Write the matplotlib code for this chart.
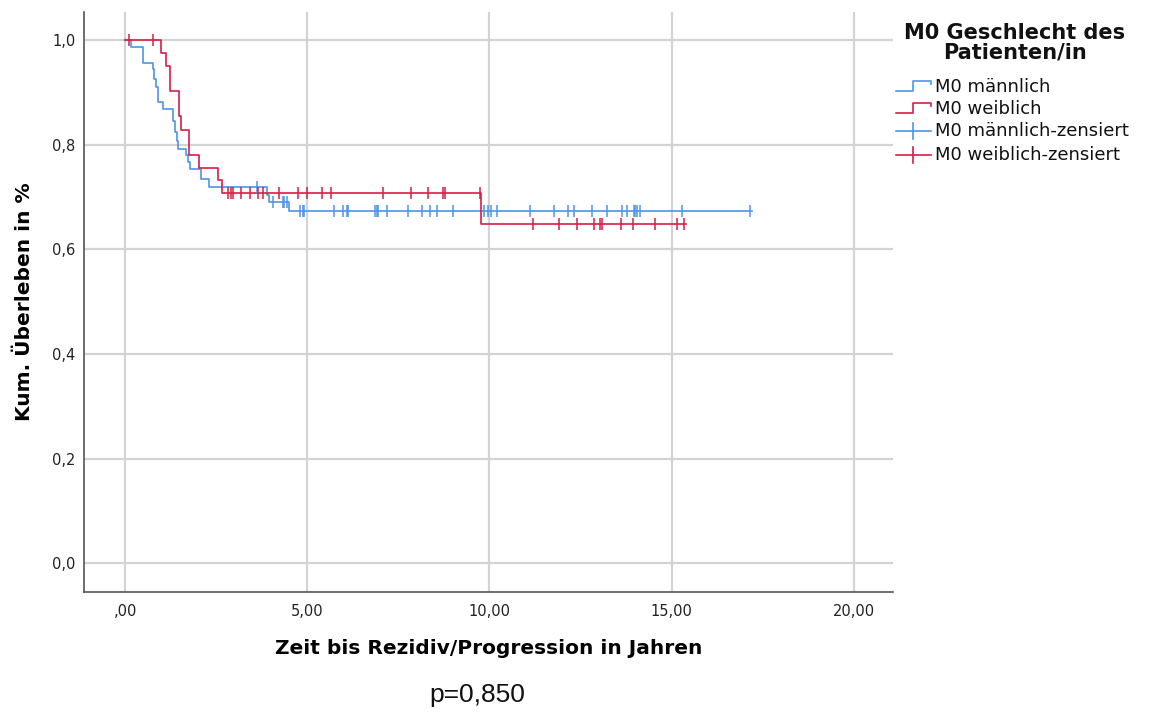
import numpy as np
import matplotlib
matplotlib.use("Agg")
import matplotlib.pyplot as plt
from matplotlib.lines import Line2D

# ---------------- data ----------------
blue_label = "M0 männlich"
red_label = "M0 weiblich"
blue_cens_label = "M0 männlich-zensiert"
red_cens_label = "M0 weiblich-zensiert"

blue_times = [0.0, 0.15, 0.49, 0.76, 0.79, 0.835, 0.90, 1.04, 1.31, 1.38, 1.43,
              1.45, 1.68, 1.72, 1.77, 2.09, 2.30, 3.90, 3.96, 4.51]
blue_surv = [1.0, 0.987, 0.956, 0.945, 0.926, 0.910, 0.882, 0.868, 0.846, 0.824,
             0.808, 0.792, 0.781, 0.767, 0.754, 0.735, 0.720, 0.705, 0.690, 0.673]
blue_end = 17.2
blue_cens = [3.61, 4.07, 4.32, 4.37, 4.45, 4.80, 4.87, 4.91, 5.74, 5.97, 6.08, 6.13,
             6.86, 6.91, 6.95, 7.20, 7.77, 8.14, 8.37, 8.55, 9.01, 9.86, 9.96, 10.05,
             10.22, 11.12, 11.76, 12.17, 12.31, 12.83, 13.23, 13.65, 13.79, 13.96,
             14.00, 14.05, 14.14, 15.29, 17.16]

red_times = [0.0, 0.99, 1.13, 1.22, 1.49, 1.54, 1.75, 2.02, 2.55, 2.66, 9.77]
red_surv = [1.0, 0.976, 0.951, 0.902, 0.856, 0.829, 0.780, 0.756, 0.732, 0.707, 0.648]
red_end = 15.4
red_cens = [0.10, 0.76, 2.82, 2.90, 2.97, 3.18, 3.42, 3.66, 3.79, 4.22, 4.75, 5.00,
            5.40, 5.65, 7.09, 7.84, 8.31, 8.72, 8.78, 9.73, 11.19, 11.92, 12.40,
            12.86, 13.04, 13.10, 13.61, 13.94, 14.55, 15.15, 15.33]

x_ticks = [0, 5, 10, 15, 20]
x_tick_labels = [",00", "5,00", "10,00", "15,00", "20,00"]
y_ticks = [0.0, 0.2, 0.4, 0.6, 0.8, 1.0]
y_tick_labels = ["0,0", "0,2", "0,4", "0,6", "0,8", "1,0"]

x_label = "Zeit bis Rezidiv/Progression in Jahren"
y_label = "Kum. Überleben in %"
legend_title = "M0 Geschlecht des\nPatienten/in"
p_text = "p=0,850"

# ---------------- styling ----------------
BLUE = "#4F95E6"
RED = "#D81E48"
GRID = "#D3D3D3"
SPINE = "#555555"

W, H = 1149, 715
fig = plt.figure(figsize=(W / 100, H / 100), dpi=100)
ax = fig.add_axes([84 / W, 1 - 592 / H, (893 - 84) / W, (592 - 12) / H])

ax.set_xlim(-1.13, 21.08)
ax.set_ylim(-0.055, 1.054)
ax.set_xticks(x_ticks)
ax.set_xticklabels(x_tick_labels)
ax.set_yticks(y_ticks)
ax.set_yticklabels(y_tick_labels)
ax.tick_params(length=0, labelsize=10.5, colors="#222222")
ax.tick_params(axis="x", pad=9)
ax.tick_params(axis="y", pad=6)
ax.grid(True, color=GRID, lw=1.6)
ax.set_axisbelow(True)
for s in ("top", "right"):
    ax.spines[s].set_visible(False)
for s in ("left", "bottom"):
    ax.spines[s].set_color(SPINE)
    ax.spines[s].set_linewidth(1.2)


def step_value(times, surv, t):
    idx = np.searchsorted(np.asarray(times), np.asarray(t), side="right") - 1
    return np.asarray(surv)[idx]


for times, surv, end, cens, col in [
    (blue_times, blue_surv, blue_end, blue_cens, BLUE),
    (red_times, red_surv, red_end, red_cens, RED),
]:
    ax.step(list(times) + [end], list(surv) + [surv[-1]], where="post",
            color=col, lw=1.2, zorder=3)
    ax.plot(cens, step_value(times, surv, cens), ls="none", marker="|",
            markersize=8.5, markeredgewidth=1.1, color=col, zorder=4)

ax.set_xlabel(x_label, fontsize=14.5, fontweight="bold", labelpad=14)
ax.set_ylabel(y_label, fontsize=14.5, fontweight="bold", labelpad=13)

# p-value
fig.text(477 / W, 1 - 695 / H, p_text, fontsize=19, family="Liberation Sans",
         ha="center", va="center", color="#111111")

# ---------------- legend (manual) ----------------
fig.text(1015 / W, 1 - 43 / H, legend_title, fontsize=15, fontweight="bold",
         ha="center", va="center", linespacing=0.95, color="#111111")


def fx(px):
    return px / W


def fy(py):
    return 1 - py / H


entries = [(blue_label, BLUE, "step", 87), (red_label, RED, "step", 109),
           (blue_cens_label, BLUE, "cens", 131), (red_cens_label, RED, "cens", 155)]
for text, col, kind, yc in entries:
    if kind == "step":
        xs = [896, 913, 913, 931, 931]
        ys = [yc + 4, yc + 4, yc - 6, yc - 6, yc - 3]
        fig.add_artist(Line2D([fx(v) for v in xs], [fy(v) for v in ys],
                              color=col, lw=1.2))
    else:
        fig.add_artist(Line2D([fx(896), fx(931)], [fy(yc), fy(yc)], color=col, lw=1.2))
        fig.add_artist(Line2D([fx(913), fx(913)], [fy(yc - 8), fy(yc + 8)],
                              color=col, lw=1.2))
    fig.text(fx(935), fy(yc), text, fontsize=13, ha="left", va="center",
             color="#111111")

fig.savefig("out.png", dpi=100)
